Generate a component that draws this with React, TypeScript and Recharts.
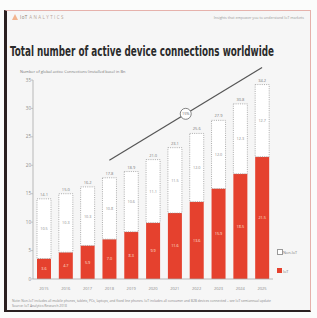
import { useLayoutEffect, useRef, useState } from "react";
import {
  BarChart,
  Bar,
  XAxis,
  YAxis,
  LabelList,
  ReferenceLine,
} from "recharts";

const years = ["2015", "2016", "2017", "2018", "2019", "2020", "2021", "2022", "2023", "2024", "2025"];
const iotValues = [3.6, 4.7, 5.9, 7.0, 8.3, 9.9, 11.6, 13.6, 15.9, 18.5, 21.5];
const nonIotValues = [10.5, 10.3, 10.3, 10.8, 10.6, 11.1, 11.5, 12.0, 12.0, 12.3, 12.7];
const yTicks = [0, 5, 10, 15, 20, 25, 30, 35];
const trendStart = { year: "2018", value: 20.9 };
const trendEnd = { year: "2025", value: 37.2 };
const cagrLabel = "15%";
const titleText = "Total number of active device connections worldwide";

const RED = "#e5412e";
const GREY_TEXT = "#8a8a8a";

const chartData = years.map((year, i) => ({
  year,
  iot: iotValues[i],
  nonIot: nonIotValues[i],
  total: Math.round((iotValues[i] + nonIotValues[i]) * 10) / 10,
}));

const fmt = (v: any) => Number(v).toFixed(1);

// circled CAGR badge sitting in the middle of the trend line
const CagrBadge = (props: any) => {
  const vb = props.viewBox || {};
  const cx = vb.x + vb.width / 2;
  const cy = vb.y + vb.height / 2;
  return (
    <g>
      <circle cx={cx} cy={cy} r={5.5} fill="#fff" stroke="#666" strokeWidth={0.8} />
      <text x={cx} y={cy + 1.3} textAnchor="middle" fontSize={3.8} fill="#666">
        {cagrLabel}
      </text>
    </g>
  );
};

// condensed title: measure the natural width and squeeze it horizontally to fit
const Title = () => {
  const ref = useRef<SVGTextElement>(null);
  const [sx, setSx] = useState(1);
  useLayoutEffect(() => {
    if (ref.current) {
      const w = ref.current.getComputedTextLength();
      if (w > 0) setSx(264 / w);
    }
  }, []);
  return (
    <svg style={{ position: "absolute", left: 0, top: 0 }} width={317} height={318}>
      <g transform={`translate(10 55.5) scale(${sx} 1)`}>
        <text
          ref={ref}
          x={0}
          y={0}
          fontSize={14}
          fontWeight={700}
          fill="#2b2b2b"
          fontFamily="'Liberation Sans Narrow', 'DejaVu Sans Condensed', 'Liberation Sans', sans-serif"
        >
          {titleText}
        </text>
      </g>
    </svg>
  );
};

const App = () => {
  return (
    <div
      style={{
        position: "absolute",
        left: 0,
        top: 0,
        width: 317,
        height: 318,
        background: "#fbfcfb",
        fontFamily: "'Open Sans', sans-serif",
        overflow: "hidden",
      }}
    >
      {/* slide frame */}
      <div
        style={{
          position: "absolute",
          left: 4,
          top: 10,
          width: 303,
          height: 299,
          background: "#f6f6f6",
          borderTop: "1px solid #e6b2ac",
          borderRight: "1px solid #e6b2ac",
          borderLeft: "3px solid #2a2020",
          borderBottom: "2px solid #2a2020",
        }}
      />

      {/* header */}
      <div style={{ position: "absolute", left: 12, top: 14, width: 0, height: 0, borderLeft: "3px solid transparent", borderRight: "3px solid transparent", borderBottom: "6px solid #f2b48e" }} />
      <div style={{ position: "absolute", left: 20, top: 14, fontSize: 4.5, letterSpacing: 1.4, color: "#b9a79b", whiteSpace: "nowrap" }}>
        <span style={{ color: "#8a7a70", letterSpacing: 0.4 }}>IoT </span>ANALYTICS
      </div>
      <div style={{ position: "absolute", right: 13, top: 14.5, fontSize: 3.6, color: "#999", whiteSpace: "nowrap" }}>
        Insights that empower you to understand IoT markets
      </div>

      <Title />
      <div style={{ position: "absolute", left: 20, top: 69, fontSize: 3.9, color: "#777", whiteSpace: "nowrap" }}>
        Number of global active Connections (installed base) in Bn
      </div>

      <div style={{ position: "absolute", left: 0, top: 0 }}>
        <BarChart
          width={317}
          height={318}
          data={chartData}
          margin={{ top: 80, right: 44, bottom: 29, left: 23 }}
          barCategoryGap={0}
        >
          <XAxis
            dataKey="year"
            tickLine={false}
            height={10}
            axisLine={{ stroke: "#aaa", strokeWidth: 0.8 }}
            tick={{ fontSize: 4, fill: GREY_TEXT }}
            interval={0}
          />
          <YAxis
            width={10}
            domain={[0, 35]}
            ticks={yTicks}
            tickSize={2}
            tickMargin={0}
            axisLine={{ stroke: "#aaa", strokeWidth: 0.8 }}
            tickLine={{ stroke: "#aaa", strokeWidth: 0.6 }}
            tick={{ fontSize: 4.5, fill: GREY_TEXT }}
          />
          <Bar dataKey="iot" stackId="a" fill={RED} barSize={14} isAnimationActive={false}>
            <LabelList dataKey="iot" position="center" formatter={fmt} fontSize={3.8} fill="#fde2dc" />
          </Bar>
          <Bar
            dataKey="nonIot"
            stackId="a"
            fill="#ffffff"
            stroke="#9a9a9a"
            strokeWidth={0.8}
            strokeDasharray="1 1.2"
            barSize={14}
            isAnimationActive={false}
          >
            <LabelList dataKey="nonIot" position="center" formatter={fmt} fontSize={3.8} fill={GREY_TEXT} />
            <LabelList dataKey="total" position="top" offset={3} formatter={fmt} fontSize={4} fill="#777" />
          </Bar>
          <ReferenceLine
            segment={[
              { x: trendStart.year, y: trendStart.value },
              { x: trendEnd.year, y: trendEnd.value },
            ]}
            stroke="#555"
            strokeWidth={1.2}
            ifOverflow="visible"
            label={<CagrBadge />}
          />
        </BarChart>
      </div>

      {/* legend */}
      <div style={{ position: "absolute", left: 277, top: 249, width: 4, height: 4, background: "#fff", border: "0.6px dashed #999" }} />
      <div style={{ position: "absolute", left: 283, top: 249.5, fontSize: 3.8, color: "#777", whiteSpace: "nowrap" }}>Non-IoT</div>
      <div style={{ position: "absolute", left: 277, top: 268, width: 5, height: 5, background: RED }} />
      <div style={{ position: "absolute", left: 283, top: 268.5, fontSize: 3.8, color: "#777", whiteSpace: "nowrap" }}>IoT</div>

      {/* footnote */}
      <div style={{ position: "absolute", left: 12, top: 297.5, fontSize: 3.3, color: "#888", whiteSpace: "nowrap", lineHeight: "5px" }}>
        Note: Non-IoT includes all mobile phones, tablets, PCs, laptops, and fixed line phones. IoT includes all consumer and B2B devices connected – see IoT semiannual update
        <br />
        Source: IoT Analytics Research 2018
      </div>
    </div>
  );
};

export default App;
